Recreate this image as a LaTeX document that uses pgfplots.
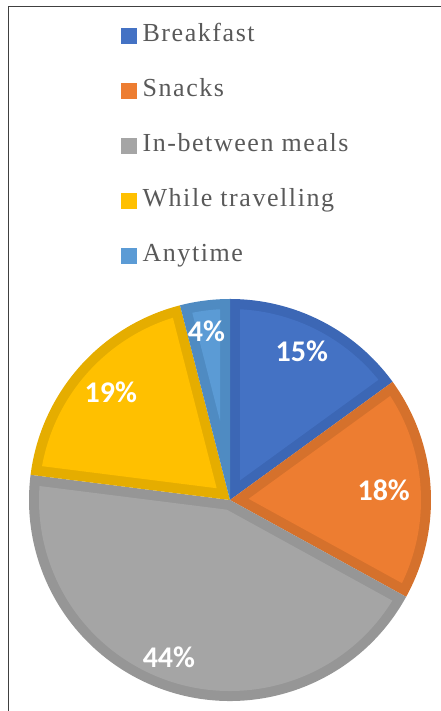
\documentclass[border=0pt]{standalone}
\usepackage{pgfplots}
\pgfplotsset{compat=1.18}
\usepackage{pgfplotstable}
\usepackage{fontspec}
\setmainfont{Liberation Serif}
\newfontfamily\legendfont{Liberation Serif}[LetterSpace=6]
\newfontfamily\pctfont{Carlito}

% slice colours: fill and darker inner border
\definecolor{fill0}{HTML}{4472C4}\definecolor{edge0}{HTML}{3C67B5}
\definecolor{fill1}{HTML}{ED7D31}\definecolor{edge1}{HTML}{D5712C}
\definecolor{fill2}{HTML}{A5A5A5}\definecolor{edge2}{HTML}{969696}
\definecolor{fill3}{HTML}{FFC000}\definecolor{edge3}{HTML}{E5AD00}
\definecolor{fill4}{HTML}{5B9BD5}\definecolor{edge4}{HTML}{4F8BC2}
\definecolor{legendtext}{HTML}{595959}
\definecolor{frameline}{HTML}{404040}

% share of answers (percent); value label: distance from the centre and
% angular nudge from the slice's mid angle
\pgfplotstableread[col sep=comma]{
name,value,labelr,labeldang
Breakfast,15,165,1.2
Snacks,18,154,0
In-between meals,44,169,-3.2
While travelling,19,161,-0.8
Anytime,4,170,0.8
}\piedata

\newcommand\pieR{201}  % pie radius (axis units = pt)
\newcommand\pieD{10}   % width of the darker inner border

\newcommand\pS[1]{\csname pieS#1\endcsname}
\newcommand\pE[1]{\csname pieE#1\endcsname}
\newcommand\pM[1]{\csname pieM#1\endcsname}
\newcommand\pA[1]{\csname pieA#1\endcsname}
\newcommand\pL[1]{\csname pieL#1\endcsname}
\newcommand\pT[1]{\csname pieT#1\endcsname}
\newcommand\pV[1]{\csname pieV#1\endcsname}

\begin{document}
\begin{tikzpicture}
% slice angles, clockwise from 12 o'clock
\gdef\piecum{0}
\pgfmathsetmacro\tmpdelta{asin(\pieD/(\pieR-\pieD))}
\xdef\piedelta{\tmpdelta}
\foreach \i in {0,...,4}{
  \pgfplotstablegetelem{\i}{value}\of\piedata
  \let\val\pgfplotsretval
  \pgfmathsetmacro\sa{90-3.6*\piecum}
  \pgfmathsetmacro\ea{\sa-3.6*\val}
  \pgfmathsetmacro\ma{(\sa+\ea)/2}
  \pgfmathsetmacro\ap{\pieD/sin((\sa-\ea)/2)}
  \pgfmathsetmacro\newcum{\piecum+\val}
  \xdef\piecum{\newcum}
  \expandafter\xdef\csname pieS\i\endcsname{\sa}
  \expandafter\xdef\csname pieE\i\endcsname{\ea}
  \expandafter\xdef\csname pieM\i\endcsname{\ma}
  \expandafter\xdef\csname pieA\i\endcsname{\ap}
  \expandafter\xdef\csname pieV\i\endcsname{\val}
  \pgfplotstablegetelem{\i}{labelr}\of\piedata
  \expandafter\xdef\csname pieL\i\endcsname{\pgfplotsretval}
  \pgfplotstablegetelem{\i}{labeldang}\of\piedata
  \pgfmathsetmacro\ta{\ma+\pgfplotsretval}
  \expandafter\xdef\csname pieT\i\endcsname{\ta}
}
\begin{axis}[
  hide axis,
  x=1pt, y=1pt,
  xmin=-230, xmax=211, ymin=-211, ymax=500,
  clip=false,
  legend image code/.code={\fill[#1] (0pt,-7.5pt) rectangle (15pt,7.5pt);},
  legend cell align=left,
  legend style={
    draw=none, fill=none, inner sep=0pt,
    at={(axis cs:-109,475.5)}, anchor=north west,
    font=\legendfont\fontsize{26}{30}\selectfont, text=legendtext,
    row sep=33pt,
    nodes={inner sep=0pt, text height=17pt, text depth=5pt},
    /tikz/every odd column/.append style={column sep=6pt},
  },
]
\coordinate (bbsw) at (axis cs:-230,-211);
\coordinate (bbne) at (axis cs:211,500);
\draw[frameline, line width=1pt] (axis cs:215,493) -- (axis cs:-222,493) -- (axis cs:-222,-215);

\pgfplotsinvokeforeach{0,...,4}{
  % whole slice in the darker shade
  \fill[edge#1] (axis cs:0,0)
    -- (axis cs:{\pieR*cos(\pS{#1})},{\pieR*sin(\pS{#1})})
    arc[start angle=\pS{#1}, end angle=\pE{#1}, radius=\pieR pt] -- cycle;
  % inset slice in the main colour
  \fill[fill#1] (axis cs:{\pA{#1}*cos(\pM{#1})},{\pA{#1}*sin(\pM{#1})})
    -- (axis cs:{(\pieR-\pieD)*cos(\pS{#1}-\piedelta)},{(\pieR-\pieD)*sin(\pS{#1}-\piedelta)})
    arc[start angle=\pS{#1}-\piedelta, end angle=\pE{#1}+\piedelta, radius=\pieR pt-\pieD pt] -- cycle;
  \node[text=white, font=\pctfont\bfseries\fontsize{30}{34}\selectfont]
    at (axis cs:{\pL{#1}*cos(\pT{#1})},{\pL{#1}*sin(\pT{#1})}) {\pV{#1}\%};
}

\addlegendimage{fill0}
\addlegendimage{fill1}
\addlegendimage{fill2}
\addlegendimage{fill3}
\addlegendimage{fill4}
\legend{Breakfast, Snacks, In-between meals, While travelling, Anytime}
\end{axis}
\pgfresetboundingbox
\useasboundingbox (bbsw) rectangle (bbne);
\end{tikzpicture}
\end{document}
